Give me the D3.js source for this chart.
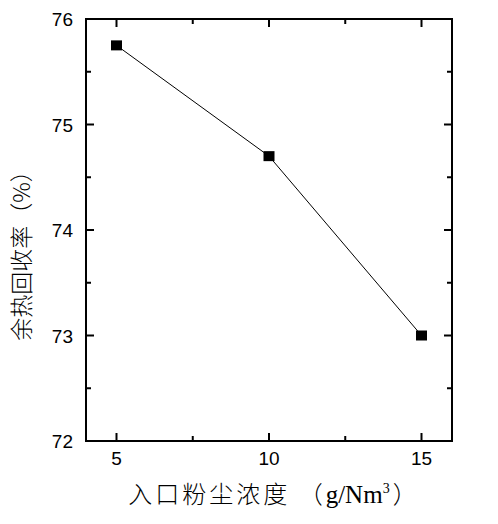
<!DOCTYPE html>
<html>
<head>
<meta charset="utf-8">
<script src="https://cdn.jsdelivr.net/npm/d3@7"></script>
<style>
  body { margin: 0; background: #fff; }
</style>
</head>
<body>
<div id="chart"></div>
<script>
var w = 498, h = 524;

// data
var dust = [5, 10, 15];
var recovery = [75.75, 74.7, 73.0];
var xTicks = [5, 10, 15];
var xMinor = [7.5, 12.5];
var yTicks = [72, 73, 74, 75, 76];
var yMinor = [72.5, 73.5, 74.5, 75.5];

// plot frame (not "top": that name belongs to window)
var pL = 86, pT = 19, pR = 452, pB = 441;

var svg = d3.select("#chart").append("svg")
    .attr("width", w).attr("height", h);

var x = d3.scaleLinear().domain([4, 16]).range([pL, pR]);
var y = d3.scaleLinear().domain([72, 76]).range([pB, pT]);

var tickFont = "Arial, 'Liberation Sans', sans-serif";

// ticks pointing inward on all four sides
var g = svg.append("g").attr("stroke", "#000").attr("stroke-width", 2);
var xAll = xTicks.concat(xMinor), yAll = yTicks.concat(yMinor);
var len = (d, major) => major.includes(d) ? 8 : 5;

g.selectAll("line.xb").data(xAll).enter().append("line")
    .attr("x1", d => x(d)).attr("x2", d => x(d))
    .attr("y1", pB).attr("y2", d => pB - len(d, xTicks));
g.selectAll("line.xt").data(xAll).enter().append("line")
    .attr("x1", d => x(d)).attr("x2", d => x(d))
    .attr("y1", pT).attr("y2", d => pT + len(d, xTicks));
g.selectAll("line.yl").data(yAll).enter().append("line")
    .attr("y1", d => y(d)).attr("y2", d => y(d))
    .attr("x1", pL).attr("x2", d => pL + len(d, yTicks));
g.selectAll("line.yr").data(yAll).enter().append("line")
    .attr("y1", d => y(d)).attr("y2", d => y(d))
    .attr("x1", pR).attr("x2", d => pR - len(d, yTicks));

svg.append("rect")
    .attr("x", pL).attr("y", pT)
    .attr("width", pR - pL).attr("height", pB - pT)
    .attr("fill", "none").attr("stroke", "#000").attr("stroke-width", 2);

// tick labels
svg.selectAll("text.xl").data(xTicks).enter().append("text")
    .attr("x", d => x(d)).attr("y", pB + 24)
    .attr("text-anchor", "middle")
    .attr("font-family", tickFont).attr("font-size", 19)
    .text(d => d);

svg.selectAll("text.yl").data(yTicks).enter().append("text")
    .attr("x", pL - 13).attr("y", d => y(d) + 7)
    .attr("text-anchor", "end")
    .attr("font-family", tickFont).attr("font-size", 19)
    .text(d => d);

// data line + markers
var pts = dust.map((d, i) => [d, recovery[i]]);
svg.append("path")
    .datum(pts)
    .attr("fill", "none").attr("stroke", "#000").attr("stroke-width", 1)
    .attr("d", d3.line().x(d => x(d[0])).y(d => y(d[1])));

svg.selectAll("rect.pt").data(pts).enter().append("rect")
    .attr("x", d => x(d[0]) - 5.5).attr("y", d => y(d[1]) - 5)
    .attr("width", 11).attr("height", 10)
    .attr("fill", "#000");

// axis titles
var cjk = "'Noto Sans CJK SC', sans-serif";
var serif = "'Liberation Serif', 'Times New Roman', serif";
var xt = svg.append("text")
    .attr("x", 274).attr("y", 503)
    .attr("text-anchor", "middle")
    .attr("font-family", cjk).attr("font-size", 24).attr("font-weight", 300)
    .attr("letter-spacing", 3);
xt.append("tspan").text("入口粉尘浓度 （");
xt.append("tspan").attr("font-family", serif).attr("font-size", 25)
    .attr("letter-spacing", 0).text("g/Nm");
xt.append("tspan").attr("font-family", serif)
    .attr("font-size", 14).attr("dy", -10).text("3");
xt.append("tspan").attr("dy", 10).text("）");

svg.append("text")
    .attr("transform", "translate(30,250) rotate(-90)")
    .attr("text-anchor", "middle")
    .attr("font-family", cjk).attr("font-size", 23).attr("font-weight", 300)
    .text("余热回收率（%）");
</script>
</body>
</html>
